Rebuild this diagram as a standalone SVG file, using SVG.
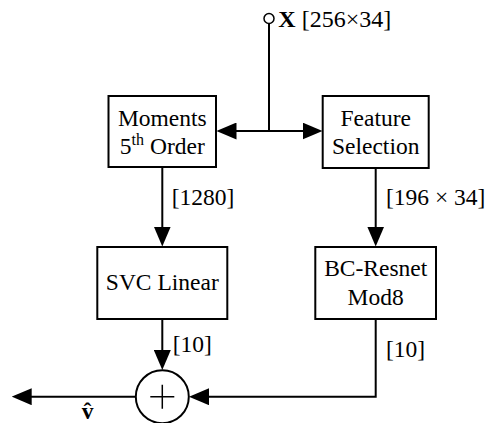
<svg xmlns="http://www.w3.org/2000/svg" width="492" height="423" viewBox="0 0 492 423" font-family="'Liberation Serif', 'DejaVu Serif', serif">
<style>
  .box { fill: #fff; stroke: #000; stroke-width: 2; }
  .ln { fill: none; stroke: #000; stroke-width: 2; }
  .arr { marker-end: url(#ah); }
  text { font-family: 'Liberation Serif', 'DejaVu Serif', serif; font-size: 23.5px; fill: #000; }
  .c { text-anchor: middle; }
  .sup { font-size: 16px; }
  .b { font-weight: bold; }
</style>
<defs>
  <marker id="ah" markerUnits="userSpaceOnUse" markerWidth="20" markerHeight="17" refX="10" refY="8.5" orient="auto" viewBox="0 0 20 17">
    <path d="M0,0 L20,8.5 L0,17 Z" fill="#000"/>
  </marker>
</defs>

<g id="connectors">
  <line class="ln" x1="269" y1="23.5" x2="269" y2="131"/>
  <line class="ln arr" x1="270" y1="131" x2="226.5" y2="131"/>
  <line class="ln arr" x1="268" y1="131" x2="312.5" y2="131"/>
  <line class="ln arr" x1="162.3" y1="167" x2="162.3" y2="236.5"/>
  <line class="ln arr" x1="375.7" y1="168" x2="375.7" y2="236.5"/>
  <line class="ln arr" x1="162.3" y1="319" x2="162.3" y2="360"/>
  <path class="ln arr" d="M375.7,319 V396.7 H199"/>
  <line class="ln arr" x1="135.8" y1="396.7" x2="21.7" y2="396.7"/>
</g>

<g id="input">
  <circle cx="269" cy="18.5" r="5" fill="#fff" stroke="#000" stroke-width="1.5"/>
  <text x="278.3" y="27.3" style="font-size:24px"><tspan class="b">X</tspan> [256×34]</text>
</g>

<g id="moments">
  <rect class="box" x="108.5" y="96" width="107.5" height="71"/>
  <text class="c" x="162.3" y="126">Moments</text>
  <text class="c" x="162.3" y="154">5<tspan class="sup" dy="-9">th</tspan><tspan dy="9"> Order</tspan></text>
</g>

<g id="feature">
  <rect class="box" x="322.7" y="96" width="106" height="72"/>
  <text class="c" x="375.7" y="126">Feature</text>
  <text class="c" x="375.7" y="154">Selection</text>
</g>

<g id="svc">
  <rect class="box" x="97.3" y="247" width="130" height="72"/>
  <text class="c" x="162.3" y="290">SVC Linear</text>
</g>

<g id="bcresnet">
  <rect class="box" x="315.3" y="247" width="120.7" height="72"/>
  <text class="c" x="375.7" y="276">BC-Resnet</text>
  <text class="c" x="375.7" y="305">Mod8</text>
</g>

<g id="sum">
  <circle cx="162.3" cy="396.7" r="26.5" fill="#fff" stroke="#000" stroke-width="2"/>
  <path d="M150.3,396.7 H174.3 M162.3,384.7 V408.7" stroke="#000" stroke-width="1.5" fill="none"/>
</g>

<g id="labels">
  <text x="171.7" y="205">[1280]</text>
  <text x="386" y="205">[196 × 34]</text>
  <text x="172.7" y="351.7">[10]</text>
  <text x="386" y="357.3">[10]</text>
  <text class="b" x="81.7" y="418.5">v̂</text>
</g>
</svg>
